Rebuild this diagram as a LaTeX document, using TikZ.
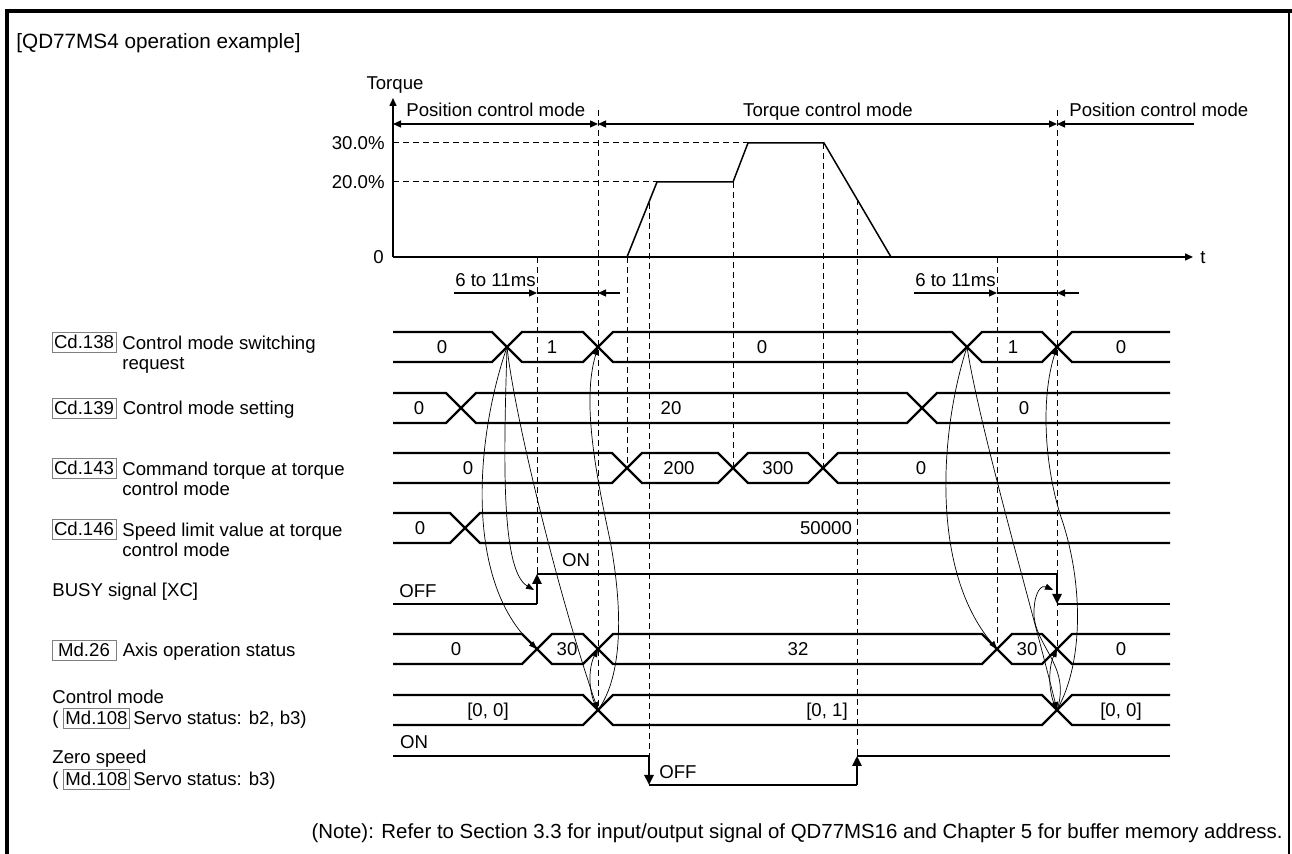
\documentclass[tikz,border=0pt]{standalone}
\usepackage{fontspec}
\setmainfont{Liberation Sans}
\usetikzlibrary{arrows.meta,positioning}
\tikzset{
  sig/.style={line width=1.2pt, >={Triangle[length=5pt,width=4.5pt]}},
  axis/.style={line width=0.75pt},
  guide/.style={line width=0.5pt, dash pattern=on 3pt off 2pt},
  link/.style={line width=0.35pt, -{Triangle[length=4pt,width=3pt]}},
  span/.style={line width=0.6pt, >={Triangle[length=4pt,width=3.5pt]}},
  tag/.style={draw=gray, line width=0.4pt, inner xsep=1pt, inner ysep=1.7pt,
    minimum width=32pt, text height=6.6pt, text depth=0pt},
  val/.style={inner sep=0pt, text height=6.6pt, text depth=0pt},
  lbl/.style={inner sep=0pt, align=left, anchor=north west},
}
\begin{document}
\begin{tikzpicture}[x=0.5pt,y=-0.5pt,every node/.style={font=\fontsize{9.3pt}{10pt}\selectfont}]
\useasboundingbox (0,0) rectangle (1292,854);
\draw[line width=2pt] (7,854) -- (7,11) -- (1292,11);
\draw[line width=0.6pt] (1289,11) -- (1289,854);
\node[val, anchor=west, font=\fontsize{10.35pt}{12pt}\selectfont] (title) at (16,42) {[QD77MS4 operation example]};

\draw[guide] (393,143) -- (748,143);
\draw[guide] (393,182) -- (657,182);
\foreach \x/\a/\b in {537/257/574, 598/110/710, 627/257/468, 649/203/756, 733/182/468,
  823/143/468, 857/199/756, 997/257/650, 1057/110/650}
  \draw[guide] (\x,\a) -- (\x,\b);
\draw[axis, -{Triangle[length=4pt,width=3.5pt]}] (393,257) -- (393,98);
\draw[axis, -{Triangle[length=4pt,width=3.5pt]}] (393,257) -- (1193,257);
\draw[axis] (627,257) -- (657,182) -- (733,182) -- (748,143) -- (824,143) -- (891,257);
\node[val] (tq) at (395,83) {Torque};
\node[val] (tt) at (1203,257) {t};
\node[val, anchor=east] (p30) at (385,143) {30.0\%};
\node[val, anchor=east] (p20) at (385,182) {20.0\%};
\node[val, anchor=east] (p0) at (384,257) {0};

\coordinate (m0) at (393,124);
\coordinate (m1) at (598,124);
\coordinate (m2) at (1057,124);
\coordinate (m3) at (1194,124);
\draw[span,<->] (m0) -- (m1);
\draw[span,<->] (m1) -- (m2);
\draw[span,<-] (m2) -- (m3);
\node[val, anchor=west] (pm1) at (406,110) {Position control mode};
\node[val] (tm) at (828,110) {Torque control mode};
\node[val, anchor=west] (pm2) at (1069,110) {Position control mode};

\coordinate (d0) at (454,293);
\coordinate (d1) at (537,293);
\coordinate (d2) at (598,293);
\coordinate (d3) at (620,293);
\draw[span,->] (d0) -- (d1);
\draw[span] (d1) -- (d2);
\draw[span,<-] (d2) -- (d3);
\coordinate (e0) at (914,293);
\coordinate (e1) at (997,293);
\coordinate (e2) at (1057,293);
\coordinate (e3) at (1079,293);
\draw[span,->] (e0) -- (e1);
\draw[span] (e1) -- (e2);
\draw[span,<-] (e2) -- (e3);
\node[val, anchor=east] (dl1) at (536,280) {6 to 11ms};
\node[val, anchor=east] (dl2) at (996,280) {6 to 11ms};

\draw[sig] (393,332) -- (492,332) -- (522,362) -- (583,362) -- (613,332) -- (952,332) -- (982,362) -- (1042,362) -- (1072,332) -- (1170,332);
\draw[sig] (393,362) -- (492,362) -- (522,332) -- (583,332) -- (613,362) -- (952,362) -- (982,332) -- (1042,332) -- (1072,362) -- (1170,362);
\draw[sig] (393,393) -- (446,393) -- (476,423) -- (907,423) -- (937,393) -- (1170,393);
\draw[sig] (393,423) -- (446,423) -- (476,393) -- (907,393) -- (937,423) -- (1170,423);
\draw[sig] (393,453) -- (612,453) -- (642,483) -- (718,483) -- (748,453) -- (808,453) -- (838,483) -- (1170,483);
\draw[sig] (393,483) -- (612,483) -- (642,453) -- (718,453) -- (748,483) -- (808,483) -- (838,453) -- (1170,453);
\draw[sig] (393,513) -- (450,513) -- (480,543) -- (1170,543);
\draw[sig] (393,543) -- (450,543) -- (480,513) -- (1170,513);
\draw[sig] (393,634) -- (522,634) -- (552,664) -- (583,664) -- (613,634) -- (982,634) -- (1012,664) -- (1042,664) -- (1072,634) -- (1170,634);
\draw[sig] (393,664) -- (522,664) -- (552,634) -- (583,634) -- (613,664) -- (982,664) -- (1012,634) -- (1042,634) -- (1072,664) -- (1170,664);
\draw[sig] (393,695) -- (583,695) -- (613,725) -- (1042,725) -- (1072,695) -- (1170,695);
\draw[sig] (393,725) -- (583,725) -- (613,695) -- (1042,695) -- (1072,725) -- (1170,725);

\coordinate (b0) at (393,604);
\coordinate (b1) at (537,604);
\coordinate (b2) at (537,574);
\coordinate (b3) at (1057,574);
\coordinate (b4) at (1057,604);
\coordinate (b5) at (1170,604);
\draw[sig] (b0) -- (b1);
\draw[sig,->] (b1) -- (b2);
\draw[sig] (b2) -- (b3);
\draw[sig,->] (b3) -- (b4);
\draw[sig] (b4) -- (b5);
\coordinate (z0) at (393,756);
\coordinate (z1) at (649,756);
\coordinate (z2) at (649,785);
\coordinate (z3) at (857,785);
\coordinate (z4) at (857,756);
\coordinate (z5) at (1170,756);
\draw[sig] (z0) -- (z1);
\draw[sig,->] (z1) -- (z2);
\draw[sig] (z2) -- (z3);
\draw[sig,->] (z3) -- (z4);
\draw[sig] (z4) -- (z5);

\foreach \x/\y/\t [count=\i] in {442/347/0, 552/347/1, 762/347/0, 1013/347/1, 1121/347/0,
  419/408/0, 671/408/20, 1024/408/0, 468/468/0, 679/468/200, 778/468/300, 921/468/0,
  420/528/0, 826/528/50000, 576/560/ON, 418/591/OFF, 456/649/0, 567/649/30, 798/649/32,
  1027/649/30, 1121/649/0, 488/710/{[0, 0]}, 827/710/{[0, 1]}, 1121/710/{[0, 0]},
  414/742/ON, 678/772/OFF}
  \node[val] (v\i) at (\x,\y) {\t};

\coordinate (r1) at (507,347);
\coordinate (r2) at (598,347);
\coordinate (r3) at (967,347);
\coordinate (r4) at (1057,347);
\coordinate (s1) at (537,649);
\coordinate (s2) at (598,649);
\coordinate (s3) at (997,649);
\coordinate (s4) at (1057,649);
\coordinate (c1) at (598,710);
\coordinate (c2) at (1057,710);
\coordinate (rise) at (534,590);
\coordinate (fall) at (1053,590);
\draw[link] (r1) .. controls (504,450) and (500,570) .. (rise);
\draw[link] (r1) .. controls (475,440) and (465,580) .. (s1);
\draw[link] (r1) .. controls (515,420) and (560,600) .. (c1);
\draw[link] (c1) .. controls (588,695) and (588,668) .. (s2);
\draw[link] (c1) .. controls (620,680) and (625,620) .. (610,540) .. controls (595,470) and (582,400) .. (r2);
\draw[link] (r3) .. controls (940,430) and (930,570) .. (s3);
\draw[link] (r3) .. controls (980,430) and (1030,600) .. (c2);
\draw[link] (c2) .. controls (1048,695) and (1048,668) .. (s4);
\draw[link] (c2) .. controls (1085,660) and (1082,580) .. (1062,520) .. controls (1045,470) and (1040,400) .. (r4);
\draw[link] (c2) .. controls (1072,665) and (1032,645) .. (1034,610) .. controls (1035,590) and (1042,585) .. (fall);

\node[tag] (cd138) at (84,342) {Cd.138};
\node[lbl] (cd138l) at (122,335.4) {Control mode switching\\request};
\node[tag] (cd139) at (84,408) {Cd.139};
\node[val, right=3pt of cd139] (cd139l) {Control mode setting};
\node[tag] (cd143) at (84,468) {Cd.143};
\node[lbl] (cd143l) at (122,461.4) {Command torque at torque\\control mode};
\node[tag] (cd146) at (84,529) {Cd.146};
\node[lbl] (cd146l) at (122,522.4) {Speed limit value at torque\\control mode};
\node[val, anchor=west] (busyl) at (52,590) {BUSY signal [XC]};
\node[tag] (md26) at (84,650) {Md.26};
\node[val, right=3pt of md26] (md26l) {Axis operation status};
\node[val, anchor=west] (cml) at (52,697) {Control mode};
\node[tag] (md108a) at (96.5,718) {Md.108};
\node[val, left=2pt of md108a] (pa) {(};
\node[val, right=1.5pt of md108a] (cmb) {Servo status: b2, b3)};
\node[val, anchor=west] (zsl) at (52,757) {Zero speed};
\node[tag] (md108b) at (96.5,779) {Md.108};
\node[val, left=2pt of md108b] (pb) {(};
\node[val, right=1.5pt of md108b] (zsb) {Servo status: b3)};

\node[val, anchor=east, font=\fontsize{10.2pt}{12pt}\selectfont] (note) at (1283,832) {(Note): Refer to Section 3.3 for input/output signal of QD77MS16 and Chapter 5 for buffer memory address.};
\end{tikzpicture}
\end{document}
